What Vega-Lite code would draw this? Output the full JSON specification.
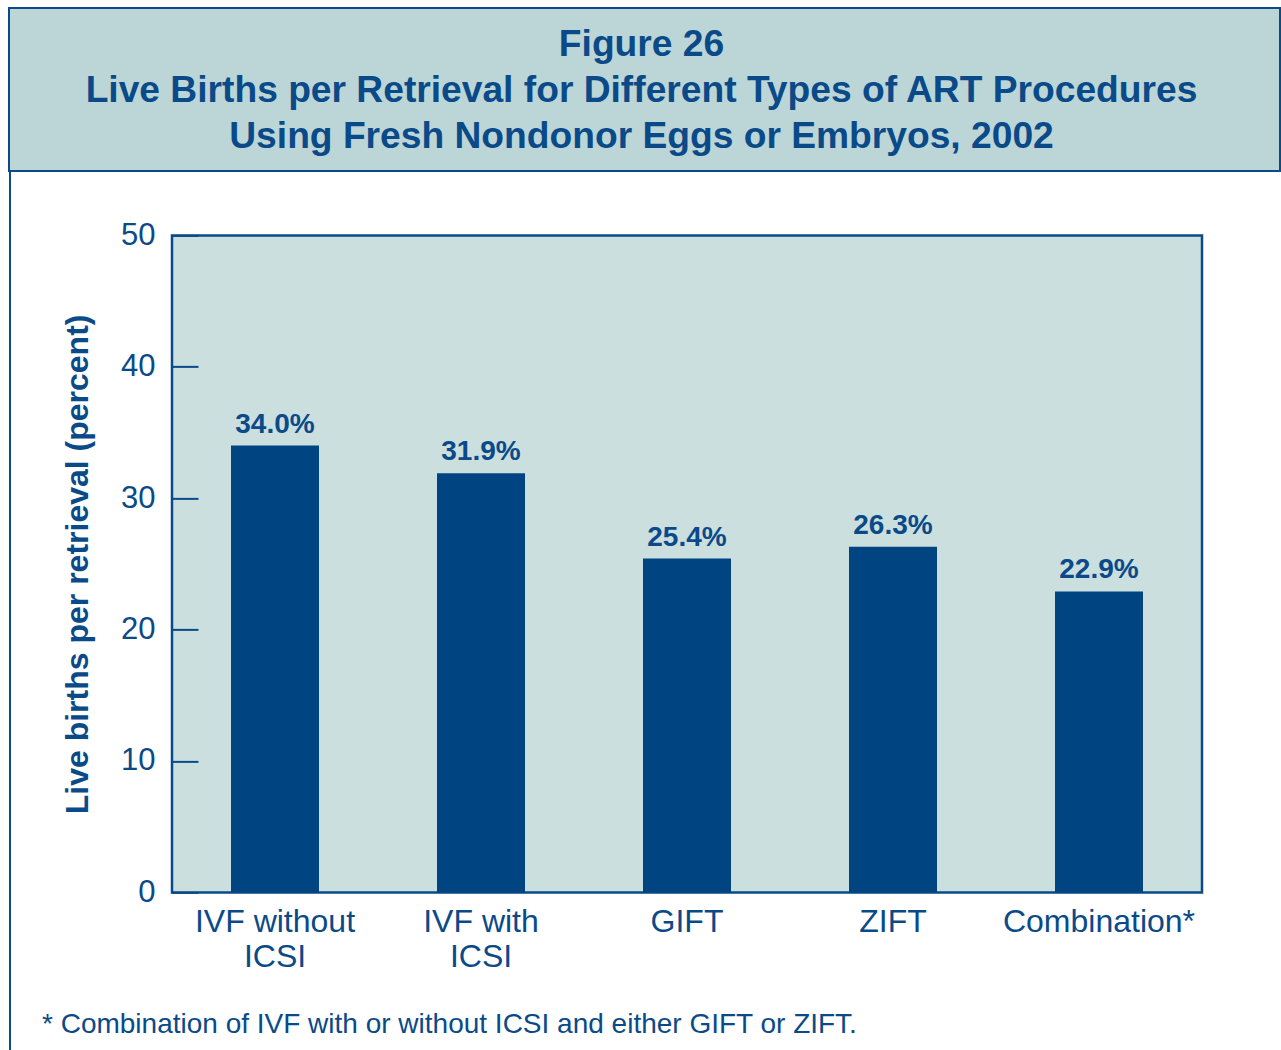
{
  "$schema": "https://vega.github.io/schema/vega-lite/v6.json",
  "background": "white",
  "padding": {"left": 8, "top": 7, "right": 0, "bottom": 0},
  "config": {
    "font": "Liberation Sans",
    "concat": {"spacing": 0}
  },
  "spacing": 0,
  "vconcat": [
    {
      "width": 1271,
      "height": 163,
      "view": {"fill": "#bcd6d7", "stroke": "#0b4a88", "strokeWidth": 2},
      "data": {"values": [
        {"line": 1, "text": "Figure 26"},
        {"line": 2, "text": "Live Births per Retrieval for Different Types of ART Procedures"},
        {"line": 3, "text": "Using Fresh Nondonor Eggs or Embryos, 2002"}
      ]},
      "mark": {"type": "text", "fontSize": 37.2, "fontWeight": "bold", "color": "#0b4a88", "baseline": "alphabetic", "align": "center", "dx": -3},
      "encoding": {
        "y": {"field": "line", "type": "ordinal", "axis": null, "scale": {"type": "point", "padding": 0, "range": [48, 140]}},
        "text": {"field": "text"}
      }
    },
    {
      "hconcat": [
        {
          "width": 2,
          "height": 932,
          "view": {"fill": "#0b4a88", "stroke": null},
          "data": {"values": []},
          "mark": "text",
          "encoding": {}
        },
        {
          "width": 1030,
          "height": 657,
          "view": {"fill": "#cbdfdf", "stroke": "#0b4a88", "strokeWidth": 2.5},
          "title": {
            "text": "* Combination of IVF with or without ICSI and either GIFT or ZIFT.",
            "orient": "bottom",
            "anchor": "start",
            "frame": "group",
            "dx": -130,
            "offset": 39,
            "fontSize": 28,
            "fontWeight": "normal",
            "color": "#0b4a88"
          },
          "data": {"values": [
            {"procedure": "IVF without ICSI", "value": 34.0, "label": "34.0%"},
            {"procedure": "IVF with ICSI", "value": 31.9, "label": "31.9%"},
            {"procedure": "GIFT", "value": 25.4, "label": "25.4%"},
            {"procedure": "ZIFT", "value": 26.3, "label": "26.3%"},
            {"procedure": "Combination*", "value": 22.9, "label": "22.9%"}
          ]},
          "encoding": {
            "x": {
              "field": "procedure", "type": "nominal", "sort": null,
              "scale": {"paddingInner": 0, "paddingOuter": 0},
              "axis": {
                "title": null, "labelAngle": 0, "ticks": false, "domain": false,
                "labelFontSize": 32, "labelColor": "#0b4a88", "labelPadding": 14,
                "labelLineHeight": 35, "labelBaseline": "top", "labelLimit": 400,
                "labelExpr": "indexof(datum.label, ' ICSI') > 0 ? [replace(datum.label, ' ICSI', ''), 'ICSI'] : datum.label"
              }
            },
            "y": {
              "field": "value", "type": "quantitative",
              "scale": {"domain": [0, 50]},
              "axis": {
                "values": [0, 10, 20, 30, 40, 50], "grid": false, "domain": false,
                "tickSize": -26, "tickWidth": 2, "tickColor": "#0b4a88",
                "labelFontSize": 31, "labelColor": "#0b4a88", "labelPadding": 43,
                "title": "Live births per retrieval (percent)",
                "titleFontSize": 32, "titleFontWeight": "bold", "titleColor": "#0b4a88",
                "titlePadding": 26
              }
            }
          },
          "layer": [
            {"mark": {"type": "bar", "width": 88, "color": "#004582"}},
            {
              "mark": {"type": "text", "fontSize": 28, "fontWeight": "bold", "color": "#0b4a88", "baseline": "alphabetic", "dy": -13},
              "encoding": {"text": {"field": "label"}}
            }
          ]
        }
      ],
      "spacing": 29,
      "center": true
    }
  ]
}
